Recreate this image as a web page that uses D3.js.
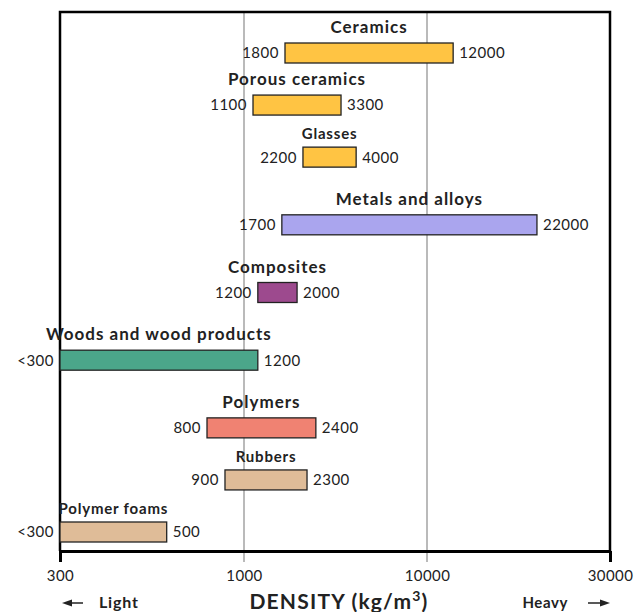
<!DOCTYPE html>
<html>
<head>
<meta charset="utf-8">
<script src="https://cdn.jsdelivr.net/npm/d3@7"></script>
<style>
  body { margin: 0; background: #fff; }
  text { font-family: Lato, "Open Sans", sans-serif; fill: #222; }
</style>
</head>
<body>
<div id="chart"></div>
<script>
// Density ranges of material families (kg/m3)

//_____ DATA _____
const materials = [ 'Ceramics', 'Porous ceramics', 'Glasses', 'Metals and alloys', 'Composites',
  'Woods and wood products', 'Polymers', 'Rubbers', 'Polymer foams' ];
const families = [ 'Ceramics', 'Ceramics', 'Ceramics', 'Metals', 'Composites', 'Woods',
  'Polymers', 'Polymers', 'Polymers' ];
//>>> Printed range labels:
const lowLabels = [ '1800', '1100', '2200', '1700', '1200', '<300', '800', '900', '<300' ];
const highLabels = [ '12000', '3300', '4000', '22000', '2000', '1200', '2400', '2300', '500' ];
//>>> Bar ends as drawn, read against the axis:
const barLow = [ 1675, 1120, 2100, 1610, 1190, 300, 785, 883, 300 ];
const barHigh = [ 11700, 3390, 4100, 19350, 1950, 1190, 2470, 2210, 603 ];
//>>> Sub-groups printed with a smaller heading:
const minorHeading = [ false, false, true, false, false, false, false, true, true ];
const xTicks = [ 300, 1000, 10000, 30000 ];

const rows = materials.map( ( m, i ) => ( {
  name: m, family: families[ i ], low: barLow[ i ], high: barHigh[ i ],
  lowLabel: lowLabels[ i ], highLabel: highLabels[ i ], minor: minorHeading[ i ]
} ) );

//_____ LAYOUT _____
const W = 640, H = 612;
const margin = { left: 60, right: 610, top: 12 };
const axisY = 551;
const barH = 20;

const svg = d3.select( '#chart' ).append( 'svg' )
  .attr( 'width', W ).attr( 'height', H );

//_____ SCALES _____
// the printed axis is not a clean log scale: each labelled segment is stretched on its own
const x = d3.scaleLog()
  .domain( xTicks )
  .range( [ margin.left, 244, 427, margin.right ] );

//>>> vertical slots: one step inside a family, a wider step between families
let slot = 0;
rows.forEach( ( d, i ) => {
  if ( i > 0 ) slot += d.family === rows[ i - 1 ].family ? 1 : 1.3;
  d.slot = slot;
} );
const y = d3.scaleLinear()
  .domain( [ 0, slot ] )
  .range( [ 43, 522 ] );

const color = d3.scaleOrdinal()
  .domain( materials )
  .range( [ '#ffc443', '#ffc443', '#ffc443', '#aaa5ee', '#9d4a8e', '#4ba68a', '#f08272', '#dfbc98', '#dfbc98' ] );

//_____ GRIDLINES _____
svg.append( 'g' ).selectAll( 'line' )
  .data( xTicks.slice( 1, -1 ) )
  .join( 'line' )
  .attr( 'x1', d => x( d ) ).attr( 'x2', d => x( d ) )
  .attr( 'y1', margin.top ).attr( 'y2', axisY + 11 )
  .attr( 'stroke', '#8c8c8c' )
  .attr( 'stroke-width', 1.2 );

//_____ FRAME _____
svg.append( 'path' )
  .attr( 'd', `M${margin.left},${axisY}V${margin.top}H${margin.right}V${axisY}` )
  .attr( 'fill', 'none' )
  .attr( 'stroke', '#000' )
  .attr( 'stroke-width', 2.5 );

//_____ AXIS _____
const xAxis = d3.axisBottom( x )
  .tickValues( xTicks )
  .tickFormat( d3.format( 'd' ) )
  .tickSize( 11 )
  .tickSizeOuter( 0 )
  .tickPadding( 8 );

const axisG = svg.append( 'g' )
  .attr( 'transform', `translate(0,${axisY})` )
  .call( xAxis );
axisG.select( '.domain' ).attr( 'stroke', '#000' ).attr( 'stroke-width', 3 );
axisG.selectAll( '.tick line' )
  .attr( 'stroke', d => ( d === 300 || d === 30000 ) ? '#000' : 'none' )
  .attr( 'stroke-width', 3 );
axisG.selectAll( '.tick text' )
  .style( 'font-size', '15px' )
  .style( 'letter-spacing', '0.4px' )
  .attr( 'fill', '#222' );

//_____ BARS _____
const row = svg.append( 'g' ).selectAll( 'g' )
  .data( rows )
  .join( 'g' )
  .attr( 'transform', d => `translate(0,${y( d.slot )})` );

row.append( 'rect' )
  .attr( 'x', d => x( d.low ) )
  .attr( 'y', 0 )
  .attr( 'width', d => x( d.high ) - x( d.low ) )
  .attr( 'height', barH )
  .attr( 'fill', d => color( d.name ) )
  .attr( 'stroke', '#222' )
  .attr( 'stroke-width', 1.3 );

row.append( 'text' )
  .attr( 'x', d => ( x( d.low ) + x( d.high ) ) / 2 )
  .attr( 'y', d => d.minor ? -8 : -10 )
  .attr( 'text-anchor', 'middle' )
  .style( 'font-weight', 'bold' )
  .style( 'font-size', d => d.minor ? '15px' : '17px' )
  .style( 'letter-spacing', d => d.minor ? '0.8px' : '1px' )
  .text( d => d.name );

row.append( 'text' )
  .attr( 'x', d => x( d.low ) - 6 )
  .attr( 'y', barH / 2 )
  .attr( 'dy', '0.36em' )
  .attr( 'text-anchor', 'end' )
  .style( 'font-size', '15px' )
  .style( 'letter-spacing', '0.5px' )
  .text( d => d.lowLabel );

row.append( 'text' )
  .attr( 'x', d => x( d.high ) + 6 )
  .attr( 'y', barH / 2 )
  .attr( 'dy', '0.36em' )
  .style( 'font-size', '15px' )
  .style( 'letter-spacing', '0.5px' )
  .text( d => d.highLabel );

//_____ AXIS TITLE _____
const title = svg.append( 'text' )
  .attr( 'x', 339 )
  .attr( 'y', 609 )
  .attr( 'text-anchor', 'middle' )
  .style( 'font-weight', 'bold' )
  .style( 'font-size', '21px' )
  .style( 'letter-spacing', '1.2px' )
  .text( 'DENSITY (kg/m' );
title.append( 'tspan' )
  .attr( 'dy', -8 )
  .style( 'font-size', '14px' )
  .text( '3' );
title.append( 'tspan' )
  .attr( 'dy', 8 )
  .text( ')' );

//>>> Light / Heavy arrows:
function arrow ( x0, x1, yy ) {
  const dir = Math.sign( x1 - x0 );
  svg.append( 'line' )
    .attr( 'x1', x0 ).attr( 'x2', x1 - dir * 6 )
    .attr( 'y1', yy ).attr( 'y2', yy )
    .attr( 'stroke', '#222' ).attr( 'stroke-width', 1.5 );
  svg.append( 'path' )
    .attr( 'd', `M${x1},${yy}L${x1 - dir * 10},${yy - 3.5}L${x1 - dir * 10},${yy + 3.5}Z` )
    .attr( 'fill', '#222' );
}
arrow( 83, 62, 603 );
arrow( 588, 610, 603 );

svg.append( 'text' )
  .attr( 'x', 99 ).attr( 'y', 608 )
  .style( 'font-weight', 'bold' ).style( 'font-size', '16px' )
  .style( 'letter-spacing', '0.8px' )
  .text( 'Light' );
svg.append( 'text' )
  .attr( 'x', 568 ).attr( 'y', 608 )
  .attr( 'text-anchor', 'end' )
  .style( 'font-weight', 'bold' ).style( 'font-size', '15px' )
  .style( 'letter-spacing', '0.6px' )
  .text( 'Heavy' );
</script>
</body>
</html>
